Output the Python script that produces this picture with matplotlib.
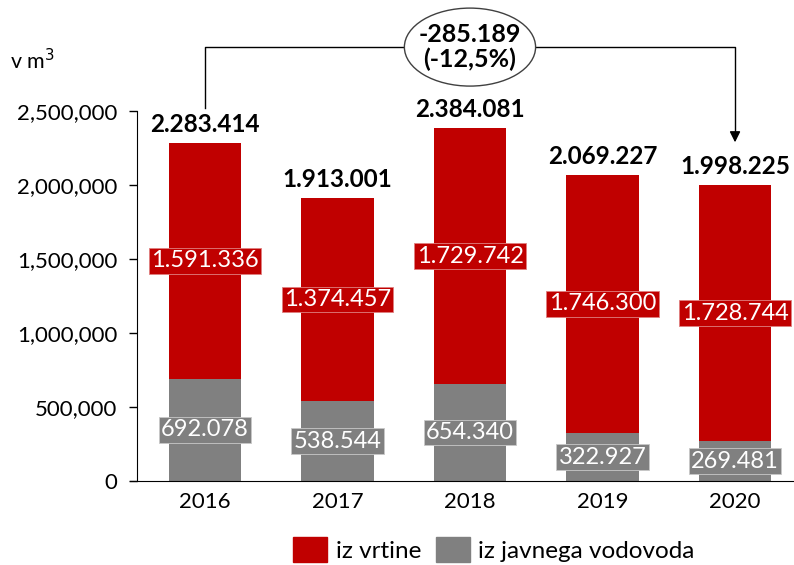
import matplotlib.pyplot as plt
from matplotlib.patches import Ellipse, Patch
from matplotlib.ticker import FuncFormatter

plt.rcParams["font.family"] = ["Lato", "DejaVu Sans"]

# Poraba vode po letih (m3)
years = ["2016", "2017", "2018", "2019", "2020"]
vrtine = [1591336, 1374457, 1729742, 1746300, 1728744]
vodovod = [692078, 538544, 654340, 322927, 269481]
totals = [2283414, 1913001, 2384081, 2069227, 1998225]
change_abs = -285189
change_pct = -12.5

red = "#C00000"
grey = "#808080"


def si(n):
    # slovenian thousands separator
    return f"{n:,}".replace(",", ".")


fig = plt.figure(figsize=(7.94, 5.65), dpi=100)
ax = fig.add_axes([0.1725, 0.1487, 0.8275, 0.6548])

x = list(range(len(years)))
w = 0.55
ax.bar(x, vodovod, w, color=grey)
ax.bar(x, vrtine, w, bottom=vodovod, color=red)

for i in x:
    ax.text(i, vodovod[i] / 2, si(vodovod[i]), ha="center", va="center",
            color="white", fontsize=17,
            bbox=dict(boxstyle="square,pad=0.1", fc=grey, ec="#c8c8c8", lw=0.6))
    ax.text(i, vodovod[i] + vrtine[i] / 2, si(vrtine[i]), ha="center", va="center",
            color="white", fontsize=17,
            bbox=dict(boxstyle="square,pad=0.1", fc=red, ec="#e08080", lw=0.6))
    ax.annotate(si(totals[i]), (i, totals[i]), xytext=(0, 5), textcoords="offset points",
                ha="center", va="bottom", fontsize=17.5, fontweight="bold")

ax.set_xlim(-0.513, 4.445)
ax.set_ylim(0, 2500000)
ax.set_xticks(x)
ax.set_xticklabels(years)
ax.set_yticks(range(0, 2500001, 500000))
ax.yaxis.set_major_formatter(FuncFormatter(lambda v, p: f"{int(v):,}"))
ax.tick_params(axis="y", length=6, width=1, labelsize=16, pad=8)
ax.tick_params(axis="x", length=0, labelsize=16, pad=8)
for s in ["top", "right"]:
    ax.spines[s].set_visible(False)
ax.spines["left"].set_color("black")
ax.spines["bottom"].set_color("black")
ax.spines["bottom"].set_bounds(-0.565, 4.445)

fig.text(0.013, 0.893, "v m$^3$", fontsize=15.5, va="center")

# connector from 2016 to 2020 with the change in the ellipse
top_y = 2932000
ax.plot([0, 0, 4, 4], [2520000, top_y, top_y, 2320000], color="black", lw=1,
        clip_on=False)
ax.annotate("", xy=(4, 2270000), xytext=(4, 2330000),
            arrowprops=dict(arrowstyle="-|>", color="black", lw=1, mutation_scale=16),
            annotation_clip=False)
ax.add_patch(Ellipse((2, top_y), 0.99, 527000, fc="white", ec="#404040", lw=1,
                     clip_on=False, zorder=3))
ax.text(2, top_y, f"{si(change_abs)}\n({str(change_pct).replace('.', ',')}%)",
        ha="center", va="center", fontsize=18, fontweight="bold",
        linespacing=1.05, zorder=4)

handles = [Patch(color=red, label="iz vrtine"), Patch(color=grey, label="iz javnega vodovoda")]
fig.legend(handles=handles, loc="center", bbox_to_anchor=(0.622, 0.027), ncol=2,
           frameon=False, fontsize=17.5, handlelength=1.4, handleheight=1.2,
           handletextpad=0.35, columnspacing=0.6)

fig.savefig("out.png", dpi=100)
